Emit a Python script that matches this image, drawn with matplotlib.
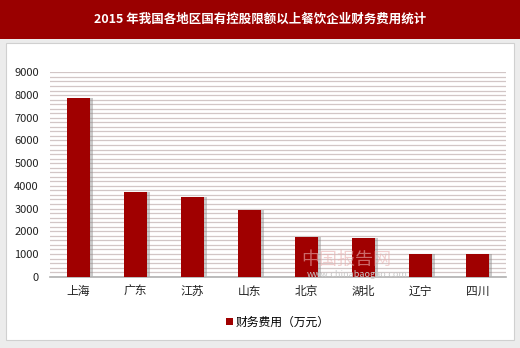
import matplotlib
matplotlib.use("Agg")
import matplotlib.pyplot as plt
from matplotlib.patches import Rectangle
import numpy as np

plt.rcParams['font.family'] = ['Noto Sans CJK SC', 'DejaVu Sans']

# data
regions = ['上海', '广东', '江苏', '山东', '北京', '湖北', '辽宁', '四川']
cost = [7850, 3750, 3500, 2950, 1750, 1700, 1000, 1000]
series_name = '财务费用（万元）'
title = '2015 年我国各地区国有控股限额以上餐饮企业财务费用统计'

bar_color = '#a00000'

fig = plt.figure(figsize=(5.2, 3.48), dpi=100)
fig.patch.set_facecolor('#ececec')

# white panel and title bar
fig.add_artist(Rectangle((0.012, 0.022), 0.976, 0.855, transform=fig.transFigure,
                         facecolor='white', edgecolor='#d0d0d0', lw=0.8, zorder=0))
fig.add_artist(Rectangle((0, 0.888), 1, 0.112, transform=fig.transFigure,
                         facecolor='#9a0000', edgecolor='none', zorder=0))
fig.text(0.5, 0.945, title, color='white', ha='center', va='center',
         fontsize=9, fontweight='bold')

ax = fig.add_axes([0.096, 0.205, 0.877, 0.587])
x = np.arange(len(regions))

# shadow + bars
ax.bar(x + 0.06, cost, width=0.39, color='#8a8a8a', alpha=0.45, zorder=2)
ax.bar(x, cost, width=0.39, color=bar_color, zorder=3, label=series_name)

ax.set_xlim(-0.5, len(regions) - 0.5)
ax.set_ylim(0, 9000)
ax.set_yticks(np.arange(0, 9001, 1000))
ax.set_yticks(np.arange(0, 9001, 200), minor=True)
ax.yaxis.grid(True, which='both', color='#d2c6c6', lw=0.9)
ax.set_axisbelow(True)
ax.set_xticks(x)
ax.set_xticklabels(regions, fontsize=8.5, color='#222222')
ax.tick_params(axis='y', labelsize=8, colors='#222222', length=0, which='both', pad=8)
ax.tick_params(axis='x', length=0, pad=6)
for s in ['top', 'right', 'left']:
    ax.spines[s].set_visible(False)
ax.spines['bottom'].set_color('#b0b0b0')
ax.spines['bottom'].set_linewidth(1.2)

# watermark
fig.text(0.666, 0.252, '中国报告网', color='#e8b0b0', fontsize=13, alpha=0.6,
         ha='center', va='center', zorder=5)
fig.text(0.687, 0.212, 'www.chinabaogao.com', color='#c8c8c8', fontsize=6.5,
         ha='center', va='center', zorder=5)

ax.legend(loc='upper center', bbox_to_anchor=(0.5, -0.14), frameon=False,
          fontsize=8.5, handlelength=0.6, handleheight=0.6, handletextpad=0.2)

fig.savefig('out.png', dpi=100, facecolor=fig.get_facecolor())
